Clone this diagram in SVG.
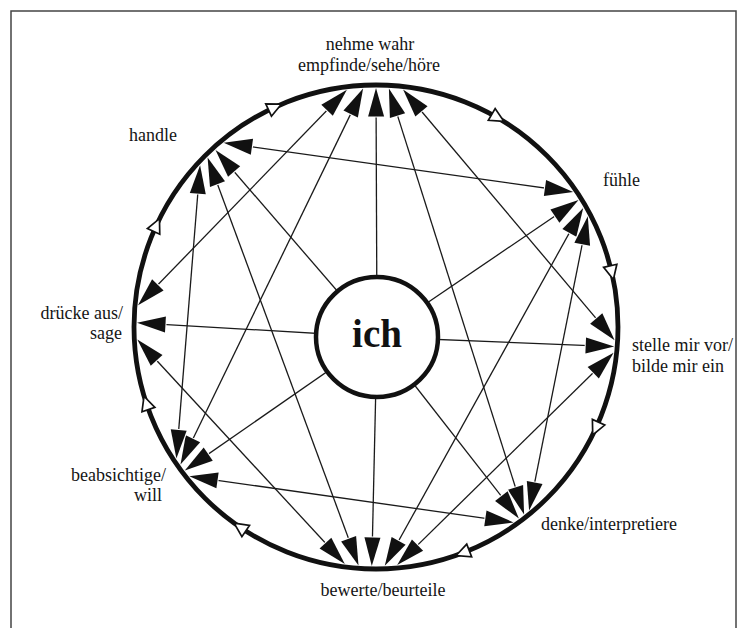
<svg xmlns="http://www.w3.org/2000/svg" xmlns:xlink="http://www.w3.org/1999/xlink" width="744" height="628" viewBox="0 0 744 628">
<style>
.lbl{font-family:"Liberation Serif","Times New Roman",serif;font-size:18px;fill:#151515}
.ln{fill:none;stroke:#1a1a1a;stroke-width:1.3}
.hd{fill:none;stroke:none}
.bi{marker-start:url(#ah);marker-end:url(#ah)}
.one{marker-end:url(#ah)}
.ring{fill:none;stroke:#111;stroke-width:4.8}
.ot{fill:#fff;stroke:#111;stroke-width:1.7}
</style>
<defs>
<marker id="ah" markerUnits="userSpaceOnUse" orient="auto-start-reverse" refX="0" refY="0" markerWidth="30" markerHeight="20" overflow="visible" style="overflow:visible">
<path d="M0,0 L-28.5,-8 L-28.5,8 Z" fill="#111" stroke="#fff" stroke-width="2" paint-order="stroke"/>
</marker>
<polygon id="ot" class="ot" points="0,7.5 -6.8,-6.5 6.8,-6.5"/>
</defs>
<rect x="11" y="11" width="725" height="630" fill="none" stroke="#444" stroke-width="1.5"/>
<g id="connectors">
<g id="lines" class="ln">
<path d="M346.9,89.8 L138,305.3"/>
<path d="M363.1,88.4 L180.5,464.5"/>
<path d="M388.9,88.4 L524.1,514.6"/>
<path d="M403.1,89.5 L614.6,340.3"/>
<path d="M223.7,142.8 L573.2,192"/>
<path d="M207.6,157.4 L358.5,565.4"/>
<path d="M200.1,165.2 L176.4,458.4"/>
<path d="M137.3,339.5 L344.8,564"/>
<path d="M613.6,352.8 L397.2,565.1"/>
<path d="M583.2,207.9 L384.8,565.8"/>
<path d="M587.8,216.3 L529.1,510.5"/>
<path d="M189.3,476.3 L513.6,522.4"/>
<path d="M377,337 L376,88"/>
<path d="M377,337 L578.5,200"/>
<path d="M377,337 L614.2,346.6"/>
<path d="M377,337 L518.9,518.6"/>
<path d="M377,337 L371.8,566"/>
<path d="M377,337 L184.8,470.4"/>
<path d="M377,337 L137,322.8"/>
<path d="M377,337 L215.5,150"/>
</g>
<g id="arrowheads" class="hd">
<path class="bi" d="M346.9,89.8 L138,305.3"/>
<path class="bi" d="M363.1,88.4 L180.5,464.5"/>
<path class="bi" d="M388.9,88.4 L524.1,514.6"/>
<path class="bi" d="M403.1,89.5 L614.6,340.3"/>
<path class="bi" d="M223.7,142.8 L573.2,192"/>
<path class="bi" d="M207.6,157.4 L358.5,565.4"/>
<path class="bi" d="M200.1,165.2 L176.4,458.4"/>
<path class="bi" d="M137.3,339.5 L344.8,564"/>
<path class="bi" d="M613.6,352.8 L397.2,565.1"/>
<path class="bi" d="M583.2,207.9 L384.8,565.8"/>
<path class="bi" d="M587.8,216.3 L529.1,510.5"/>
<path class="bi" d="M189.3,476.3 L513.6,522.4"/>
<path class="one" d="M377,337 L376,88"/>
<path class="one" d="M377,337 L578.5,200"/>
<path class="one" d="M377,337 L614.2,346.6"/>
<path class="one" d="M377,337 L518.9,518.6"/>
<path class="one" d="M377,337 L371.8,566"/>
<path class="one" d="M377,337 L184.8,470.4"/>
<path class="one" d="M377,337 L137,322.8"/>
<path class="one" d="M377,337 L215.5,150"/>
</g>
</g>
<g id="cycle">
<circle class="ring" cx="376" cy="327" r="242"/>
<use xlink:href="#ot" href="#ot" transform="rotate(-59.9 376 327)" x="618" y="327"/>
<use xlink:href="#ot" href="#ot" transform="rotate(-13.1 376 327)" x="618" y="327"/>
<use xlink:href="#ot" href="#ot" transform="rotate(24.7 376 327)" x="618" y="327"/>
<use xlink:href="#ot" href="#ot" transform="rotate(68.9 376 327)" x="618" y="327"/>
<use xlink:href="#ot" href="#ot" transform="rotate(124.1 376 327)" x="618" y="327"/>
<use xlink:href="#ot" href="#ot" transform="rotate(161.6 376 327)" x="618" y="327"/>
<use xlink:href="#ot" href="#ot" transform="rotate(204.8 376 327)" x="618" y="327"/>
<use xlink:href="#ot" href="#ot" transform="rotate(245.2 376 327)" x="618" y="327"/>
</g>
<g id="node-ich">
<ellipse cx="377" cy="337" rx="61" ry="60" fill="#fff" stroke="#111" stroke-width="4.5"/>
<text x="377" y="347" text-anchor="middle" font-family="'Liberation Serif','Times New Roman',serif" font-size="39" font-weight="bold" fill="#111">ich</text>
</g>
<g id="node-nehme-wahr">
<text class="lbl" x="370" y="50" text-anchor="middle">nehme wahr</text>
<text class="lbl" x="369" y="70.5" text-anchor="middle">empfinde/sehe/höre</text>
</g>
<g id="node-fuehle"><text class="lbl" x="603" y="186">fühle</text></g>
<g id="node-stelle-mir-vor">
<text class="lbl" x="632" y="351">stelle mir vor/</text>
<text class="lbl" x="632" y="371.5">bilde mir ein</text>
</g>
<g id="node-denke"><text class="lbl" x="541" y="530">denke/interpretiere</text></g>
<g id="node-bewerte"><text class="lbl" x="383" y="596" text-anchor="middle">bewerte/beurteile</text></g>
<g id="node-beabsichtige">
<text class="lbl" x="166" y="481" text-anchor="end">beabsichtige/</text>
<text class="lbl" x="162" y="501" text-anchor="end">will</text>
</g>
<g id="node-druecke">
<text class="lbl" x="123" y="319" text-anchor="end">drücke aus/</text>
<text class="lbl" x="122" y="339" text-anchor="end">sage</text>
</g>
<g id="node-handle"><text class="lbl" x="129" y="141">handle</text></g>
</svg>
